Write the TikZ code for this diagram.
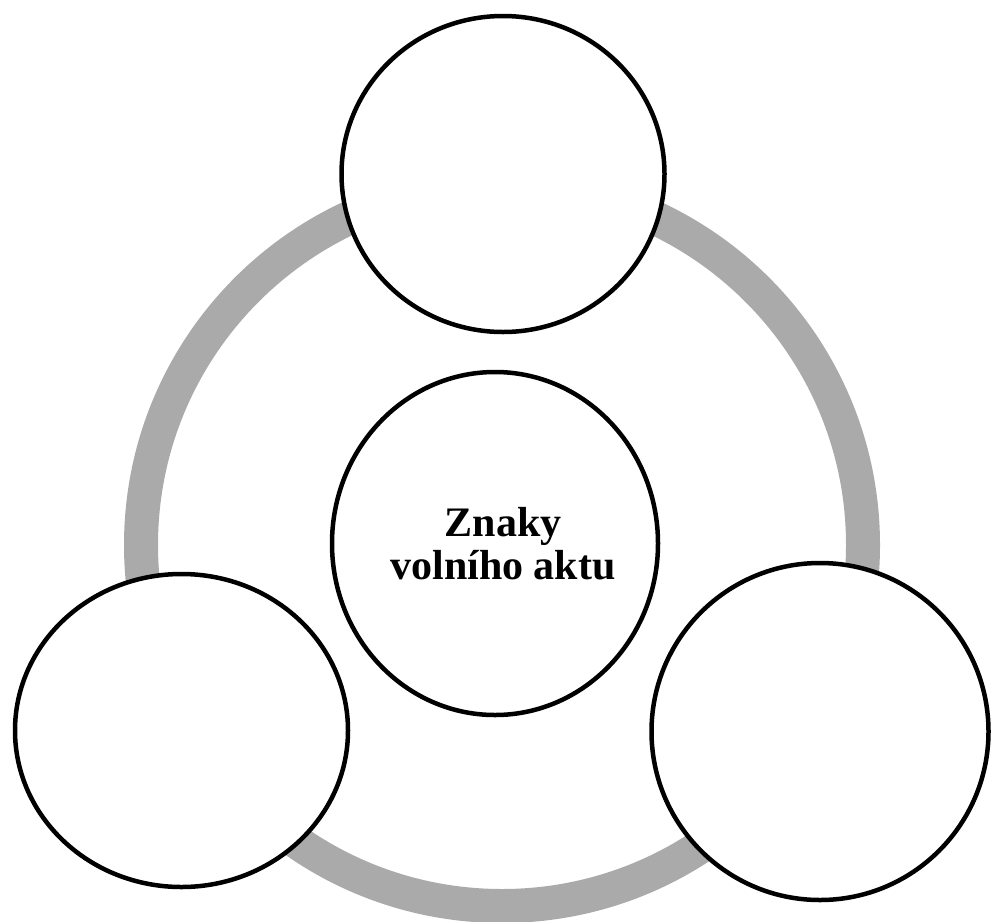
\documentclass[tikz,border=0pt]{standalone}
\usepackage{fontspec}
\setmainfont{Liberation Serif}
\usetikzlibrary{shapes.geometric}
\definecolor{ringgray}{HTML}{AAAAAA}
\tikzset{
  cyclering/.style={draw=ringgray, line width=34pt},
  bubble/.style={ellipse, draw=black, fill=white, line width=4.5pt, inner sep=0pt},
  caption/.style={font=\fontsize{42}{43}\selectfont\bfseries, align=center, inner sep=0pt}
}
\begin{document}
\begin{tikzpicture}[x=1pt,y=-1pt]
  \useasboundingbox (0,0) rectangle (992,921);
  \clip (0,0) rectangle (992,921);
  % background ring linking the three outer bubbles
  \coordinate (hub) at (502,545);
  \draw[cyclering] (hub) circle (361);
  % outer bubbles
  \node[bubble, minimum width=323pt, minimum height=316pt] (top) at (503,174) {};
  \node[bubble, minimum width=333pt, minimum height=313pt] (left) at (181.5,730.5) {};
  \node[bubble, minimum width=337pt, minimum height=337pt] (right) at (820,731.5) {};
  % central bubble with its title
  \node[bubble, minimum width=326pt, minimum height=343pt] (core) at (495,543.5) {};
  \node[caption] (title) at (503,544) {Znaky\\volního aktu};
\end{tikzpicture}
\end{document}
